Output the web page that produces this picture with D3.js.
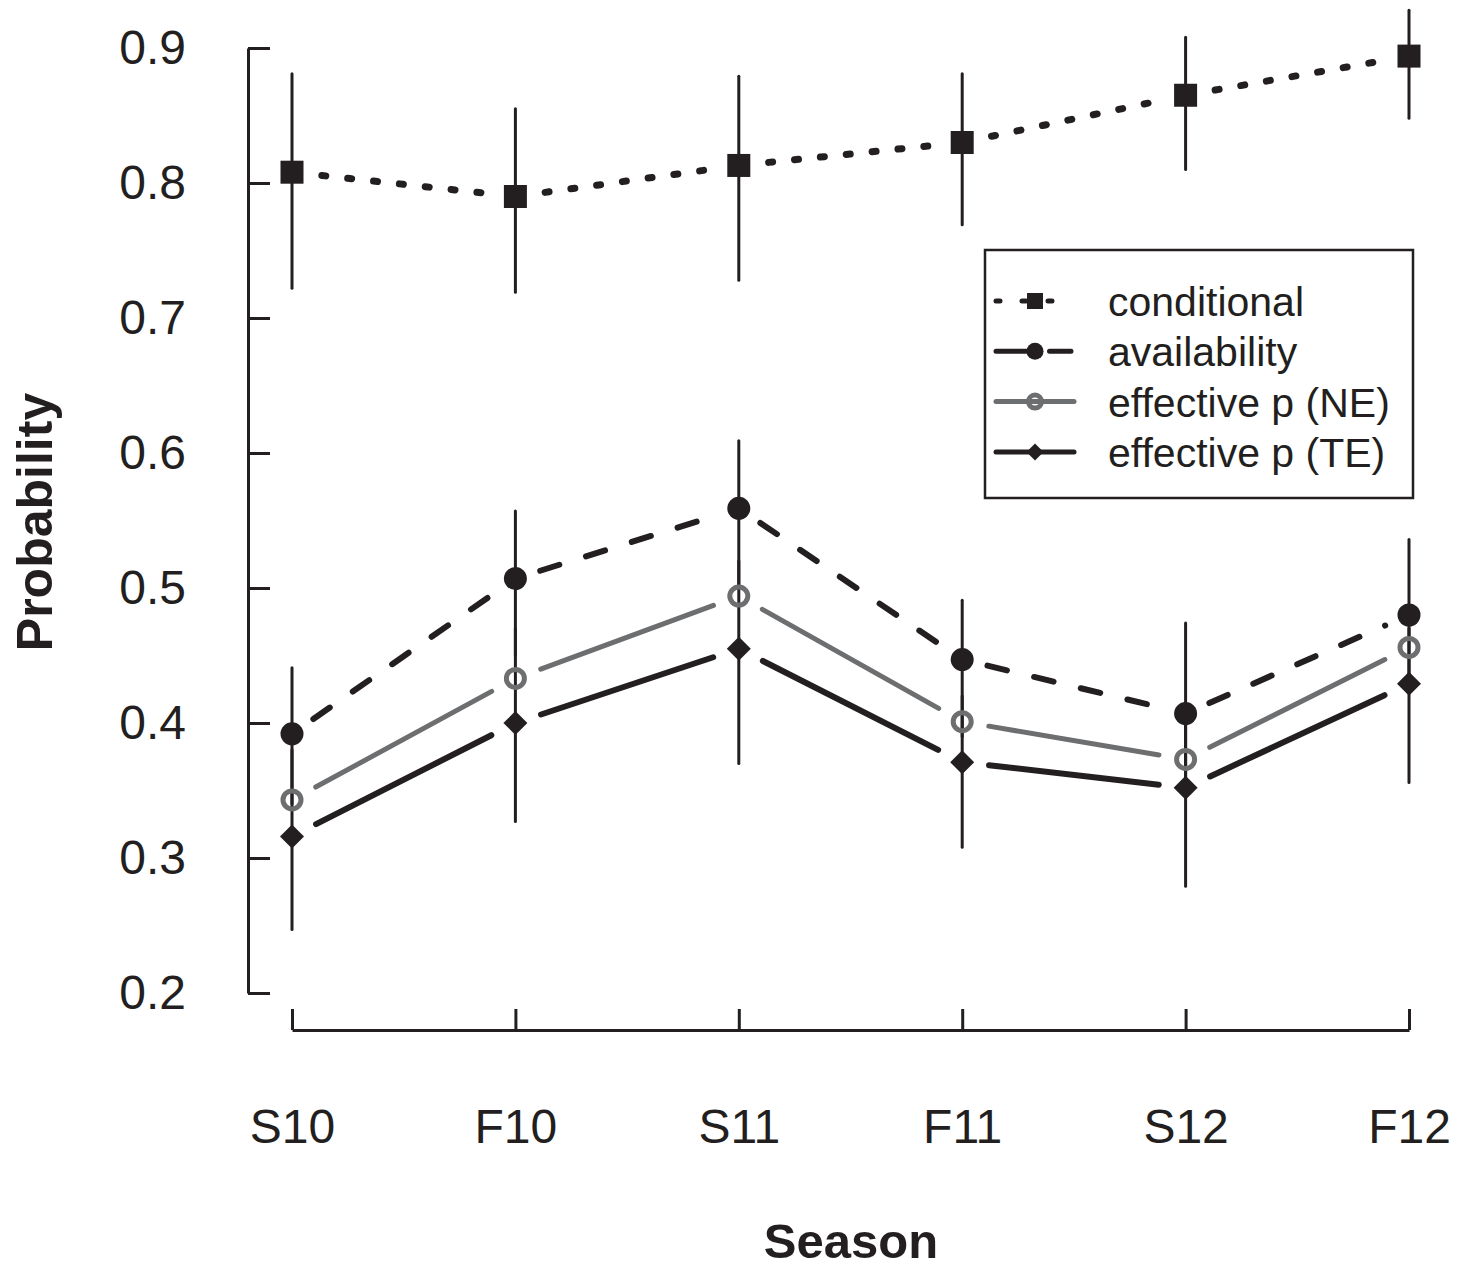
<!DOCTYPE html>
<html>
<head>
<meta charset="utf-8">
<script src="https://cdn.jsdelivr.net/npm/d3@7"></script>
<style>
	body { margin: 0; background: #fff; }
	text { font-family: 'Liberation Sans', Arial, sans-serif; fill: #231f20; }
</style>
</head>
<body>
<div class="chart"></div>
<script>
// 시즌별 확률 (읽어낸 값)
const seasons = ['S10', 'F10', 'S11', 'F11', 'S12', 'F12'];
const conditional = [0.808, 0.79, 0.813, 0.83, 0.865, 0.894];
const conditionalLo = [0.722, 0.719, 0.728, 0.769, 0.81, 0.848];
const conditionalHi = [0.881, 0.855, 0.879, 0.881, 0.908, 0.928];
const availability = [0.392, 0.507, 0.559, 0.447, 0.407, 0.48];
const availabilityLo = [0.34, 0.45, 0.5, 0.39, 0.35, 0.43];
const availabilityHi = [0.441, 0.557, 0.609, 0.491, 0.474, 0.536];
const effectiveNE = [0.343, 0.433, 0.494, 0.401, 0.373, 0.456];
const effectiveTE = [0.316, 0.4, 0.455, 0.371, 0.352, 0.429];
const effectiveTELo = [0.247, 0.327, 0.37, 0.308, 0.279, 0.356];
const effectiveTEHi = [0.38, 0.47, 0.52, 0.42, 0.41, 0.47];
const yTicks = [0.2, 0.3, 0.4, 0.5, 0.6, 0.7, 0.8, 0.9];
const legendLabels = ['conditional', 'availability', 'effective p (NE)', 'effective p (TE)'];

const black = '#231f20';
const grey = '#6d6e70';
const width = 1470;
const height = 1270;

const svg = d3.select('.chart').append('svg').attr('width', width).attr('height', height);

const x = d3.scalePoint().domain(seasons).range([292, 1409]);
const y = d3.scaleLinear().domain([0.2, 0.9]).range([993, 48]);

// 축
const yAxis = svg
	.append('g')
	.attr('transform', 'translate(248,0)')
	.call(d3.axisLeft(y).tickValues(yTicks).tickFormat(d3.format('.1f')).tickSizeInner(-22).tickSizeOuter(0).tickPadding(62));
const xAxis = svg
	.append('g')
	.attr('transform', 'translate(0,1030)')
	.call(d3.axisBottom(x).tickSizeInner(-21).tickSizeOuter(0).tickPadding(79));

[yAxis, xAxis].forEach(ax => {
	ax.select('.domain').attr('stroke', black).attr('stroke-width', 3);
	ax.selectAll('.tick line').attr('stroke', black).attr('stroke-width', 3);
	ax.selectAll('.tick text').style('font-size', '48px').attr('fill', black);
});

svg
	.append('text')
	.attr('transform', 'translate(52,522) rotate(-90)')
	.attr('text-anchor', 'middle')
	.style('font-size', '50px')
	.style('font-weight', 'bold')
	.text('Probability');

svg
	.append('text')
	.attr('x', 851)
	.attr('y', 1258)
	.attr('text-anchor', 'middle')
	.style('font-size', '49px')
	.style('font-weight', 'bold')
	.text('Season');

const series = [
	{ values: conditional, color: black, width: 7, dash: '4,22', gap: 30, marker: 'square' },
	{ values: availability, color: black, width: 6, dash: '20,28', gap: 26, marker: 'circle' },
	{ values: effectiveNE, color: grey, width: 5, dash: null, gap: 27, marker: 'open' },
	{ values: effectiveTE, color: black, width: 6, dash: null, gap: 27, marker: 'diamond' },
];

// 선 (점 주변은 비움)
const line = d3.line();
series.forEach(s => {
	const pts = s.values.map((v, i) => [x(seasons[i]), y(v)]);
	for (let i = 0; i < pts.length - 1; i++) {
		const [x0, y0] = pts[i];
		const [x1, y1] = pts[i + 1];
		const len = Math.hypot(x1 - x0, y1 - y0);
		const ux = (x1 - x0) / len;
		const uy = (y1 - y0) / len;
		svg
			.append('path')
			.attr('d', line([[x0 + ux * s.gap, y0 + uy * s.gap], [x1 - ux * s.gap, y1 - uy * s.gap]]))
			.attr('fill', 'none')
			.attr('stroke', s.color)
			.attr('stroke-width', s.width)
			.attr('stroke-linecap', 'round')
			.attr('stroke-dasharray', s.dash);
	}
});

// 오차 막대
const bars = [
	[conditionalLo, conditionalHi],
	[availabilityLo, availabilityHi],
	[effectiveTELo, effectiveTEHi],
];
bars.forEach(([lo, hi]) => {
	svg
		.append('g')
		.selectAll('line')
		.data(seasons)
		.enter()
		.append('line')
		.attr('x1', d => x(d))
		.attr('x2', d => x(d))
		.attr('y1', (d, i) => y(lo[i]))
		.attr('y2', (d, i) => y(hi[i]))
		.attr('stroke', black)
		.attr('stroke-width', 3)
		.attr('stroke-linecap', 'round');
});

function drawMarker(g, type, cx, cy, size) {
	if (type === 'square') {
		g.append('rect')
			.attr('x', cx - size / 2)
			.attr('y', cy - size / 2)
			.attr('width', size)
			.attr('height', size)
			.attr('fill', black);
	} else if (type === 'circle') {
		g.append('circle').attr('cx', cx).attr('cy', cy).attr('r', size / 2).attr('fill', black);
	} else if (type === 'open') {
		g.append('circle')
			.attr('cx', cx)
			.attr('cy', cy)
			.attr('r', size / 2 - 2.5)
			.attr('fill', 'none')
			.attr('stroke', grey)
			.attr('stroke-width', 5);
	} else {
		const h = size / 2;
		g.append('path')
			.attr('d', `M${cx},${cy - h}L${cx + h},${cy}L${cx},${cy + h}L${cx - h},${cy}Z`)
			.attr('fill', black);
	}
}

const markers = svg.append('g');
series.forEach(s => {
	s.values.forEach((v, i) => drawMarker(markers, s.marker, x(seasons[i]), y(v), s.marker === 'diamond' ? 24 : 23));
});

// 범례
const legend = svg.append('g');
legend
	.append('rect')
	.attr('x', 985)
	.attr('y', 250)
	.attr('width', 428)
	.attr('height', 248)
	.attr('fill', '#fff')
	.attr('stroke', black)
	.attr('stroke-width', 2.5);

const legendDash = ['4,22', '31,22.5,21.5', null, null];
const legendEnd = [1057, 1073, 1074, 1074];
const legendSize = [16, 17, 18, 17];
series.forEach((s, i) => {
	const ly = 301 + i * 50.3;
	legend
		.append('line')
		.attr('x1', 996)
		.attr('x2', legendEnd[i])
		.attr('y1', ly)
		.attr('y2', ly)
		.attr('stroke', s.color)
		.attr('stroke-width', 5)
		.attr('stroke-linecap', 'round')
		.attr('stroke-dasharray', legendDash[i]);
	drawMarker(legend, s.marker, 1035, ly, legendSize[i]);
	legend
		.append('text')
		.attr('x', 1108)
		.attr('y', ly + 15)
		.style('font-size', '41px')
		.text(legendLabels[i]);
});
</script>
</body>
</html>
